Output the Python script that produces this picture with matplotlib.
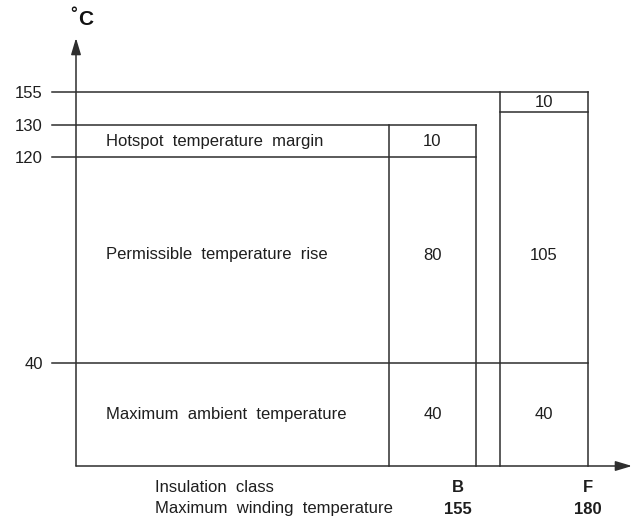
import numpy as np
import matplotlib.pyplot as plt

# temperature levels (degC) and where they sit on the schematic axis
levels = [0, 40, 120, 130, 145, 155]
level_pos = [0, 103, 309, 341, 354, 374]

tick_values = [40, 120, 130, 155]
tick_labels = ['40', '120', '130', '155']

row_names = ['Maximum  ambient  temperature', 'Permissible  temperature  rise', 'Hotspot  temperature  margin']
class_names = ['B', 'F']
class_max = [155, 180]
ambient = [40, 40]
rise = [80, 105]
margin = [10, 10]

plt.rcParams['font.family'] = ['Liberation Sans', 'DejaVu Sans']
ink = '#2e2e2e'
txt = '#1e1e1e'

fig = plt.figure(figsize=(6.36, 5.18), dpi=100)
ax = fig.add_axes([76 / 636, 52 / 518, 512 / 636, 374 / 518])


def fwd(v):
    return np.interp(v, levels, level_pos)


def inv(p):
    return np.interp(p, level_pos, levels)


ax.set_yscale('function', functions=(fwd, inv))
ax.set_xlim(0, 512)
ax.set_ylim(0, 155)
for s in ax.spines.values():
    s.set_visible(False)
ax.set_xticks([])
ax.set_yticks(tick_values)
ax.set_yticklabels(tick_labels, fontsize=12, color=txt)
ax.tick_params(axis='y', length=0, pad=24)

lw = 1.1
# column x-extents (left, right)
cols = [(313, 400), (424, 512)]

# horizontal level lines with stubs left of the axis
tops = [a + r + m for a, r, m in zip(ambient, rise, margin)]
ax.plot([-24, cols[1][1]], [ambient[0], ambient[0]], color=ink, lw=lw, clip_on=False)
ax.plot([-24, cols[0][1]], [ambient[0] + rise[0]] * 2, color=ink, lw=lw, clip_on=False)
ax.plot([-24, cols[0][1]], [tops[0]] * 2, color=ink, lw=lw, clip_on=False)
ax.plot([-24, cols[1][1]], [tops[1]] * 2, color=ink, lw=lw, clip_on=False)
ax.plot([cols[1][0], cols[1][1]], [ambient[1] + rise[1]] * 2, color=ink, lw=lw, clip_on=False)

# column sides
for (x0, x1), top in zip(cols, tops):
    ax.plot([x0, x0], [0, top], color=ink, lw=lw, clip_on=False)
    ax.plot([x1, x1], [0, top], color=ink, lw=lw, clip_on=False)

# axes with arrows
arrow = dict(arrowstyle='-|>,head_length=1.0,head_width=0.3', color=ink, lw=lw, shrinkA=0, shrinkB=0)
ax.annotate('', xy=(0, 1 + 54 / 374), xycoords='axes fraction',
            xytext=(0, 0), textcoords='axes fraction', arrowprops=arrow)
ax.annotate('', xy=(556 / 512, 0), xycoords='axes fraction',
            xytext=(0, 0), textcoords='axes fraction', arrowprops=arrow)
ax.annotate('C', xy=(0, 155), xytext=(10, 73), textcoords='offset pixels',
            ha='center', va='center', fontsize=15, fontweight='bold', color='#111111')
ax.annotate('°', xy=(0, 155), xytext=(-2, 78), textcoords='offset pixels',
            ha='center', va='center', fontsize=12, fontweight='bold', color='#111111')

# row labels and values
fs = 12
mid_rise = inv((fwd(ambient[0]) + fwd(ambient[0] + rise[0])) / 2 + 5)
centres = [ambient[0] / 2, mid_rise, ambient[0] + rise[0] + margin[0] / 2]
for name, y in zip(row_names, centres):
    ax.text(30, y, name, ha='left', va='center', fontsize=fs, color=txt)

for (x0, x1), a, r, m in zip(cols, ambient, rise, margin):
    xc = (x0 + x1) / 2
    ax.text(xc, a / 2, str(a), ha='center', va='center', fontsize=fs, color=txt)
    ax.text(xc, mid_rise, str(r), ha='center', va='center', fontsize=fs, color=txt)
    ax.text(xc, a + r + m / 2, str(m), ha='center', va='center', fontsize=fs, color=txt)

# labels under the x axis
ax.annotate('Insulation  class', xy=(79, 0), xytext=(0, -22), textcoords='offset pixels',
            ha='left', va='center', fontsize=fs, color=txt)
ax.annotate('Maximum  winding  temperature', xy=(79, 0), xytext=(0, -43), textcoords='offset pixels',
            ha='left', va='center', fontsize=fs, color=txt)
for xc, name, tmax in zip([382, 512], class_names, class_max):
    ax.annotate(name, xy=(xc, 0), xytext=(0, -22), textcoords='offset pixels',
                ha='center', va='center', fontsize=fs, fontweight='bold', color=txt)
    ax.annotate(str(tmax), xy=(xc, 0), xytext=(0, -43), textcoords='offset pixels',
                ha='center', va='center', fontsize=fs, fontweight='bold', color=txt)

fig.savefig('out.png', dpi=100)
